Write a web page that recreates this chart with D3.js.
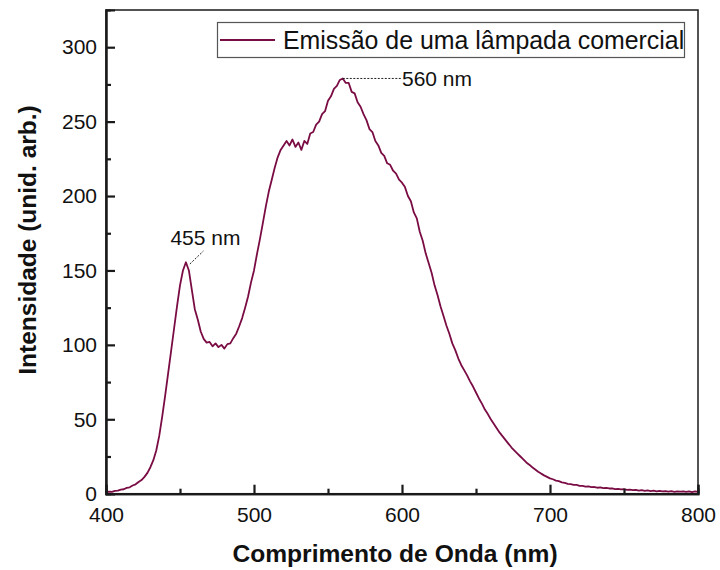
<!DOCTYPE html>
<html><head><meta charset="utf-8">
<script src="https://cdn.jsdelivr.net/npm/d3@7"></script>
<style>body{margin:0;background:#fff} text{font-family:"Liberation Sans",Arial,sans-serif;fill:#111}</style>
</head><body><svg id="c" width="720" height="570"></svg>
<script>
// ---- data ----
const wavelengths = d3.range(400, 801, 2); // nm, sampling grid
const intensity = [
  1.0,1.4,1.2,1.9,2.1,2.8,3.0,3.9,4.3,5.5,6.3,7.9,9.2,11.3,14.0,17.8,22.5,29.2,39,52,
  66,81,96,111,126,140,150,155.5,150,137,124,117,109,104,101.5,102,99,101,98.5,100,97.5,100.5,101,104.5,107.5,112.5,118,125,132.5,142,
  150,161,171,182,193,203,211,219,226,231,
  234,237,234,238,233,236,231,237,
  235,242,243,248,250,255,257,264,267,272,274,278,
  279,276,276,270,269,263,260,255,251,245,243,237,234,229,227,222,221,217,215,211,
  209,206,200,196.5,189,185,176,170,161.5,155,148.5,140,133.5,126,119.5,113,107.5,101,96.5,91,
  86.5,83,79.5,75.5,72,68,64,60.5,56.5,53.5,50,47,44,41,38.5,36,33.5,31,29,27,25,23,21,19.5,17.8,16.3,14.8,13.5,12.3,11.3,
  10.3,9.7,8.8,8.4,7.6,7.2,6.6,6.4,5.9,5.9,5.3,5.3,4.8,4.9,4.4,4.5,4.0,4.2,3.7,3.9,3.5,3.6,3.1,3.3,2.9,3.0,2.6,2.8,2.4,2.6,2.1,2.4,1.9,2.2,1.8,2.0,1.6,1.9,1.5,1.8,1.4,1.7,1.3,1.6,1.4,1.5,1.2,1.6,1.1,1.5,1.2
];
const xTicks = [400, 500, 600, 700, 800];
const xMinorTicks = [450, 550, 650, 750];
const yTicks = [0, 50, 100, 150, 200, 250, 300];
const yMinorTicks = [25, 75, 125, 175, 225, 275];
const peakWavelengths = [455, 560];
const peakValues = [155, 279];
const peakLabels = ["455 nm", "560 nm"];
const seriesName = "Emissão de uma lâmpada comercial";
const xTitle = "Comprimento de Onda (nm)";
const yTitle = "Intensidade (unid. arb.)";

// ---- layout ----
const svg = d3.select("#c");
const L = 106, R = 698, T = 10, B = 493.7;
const x = d3.scaleLinear().domain([400, 800]).range([L, R]);
const y = d3.scaleLinear().domain([0, 325]).range([B, T]);
const color = "#7a0c44";
const ink = "#1a1a1a";

// frame
svg.append("rect").attr("x", L).attr("y", T).attr("width", R - L).attr("height", B - T)
  .attr("fill", "none").attr("stroke", ink).attr("stroke-width", 1.5);

// line
const data = wavelengths.map((w, i) => [w, intensity[i]]);
svg.append("path").datum(data)
  .attr("d", d3.line().x(d => x(d[0])).y(d => y(d[1])))
  .attr("fill", "none").attr("stroke", color).attr("stroke-width", 1.8).attr("stroke-linejoin", "round");

// axes (inward ticks)
const fs = 21;
const xAxis = svg.append("g").attr("transform", `translate(0,${B})`)
  .call(d3.axisBottom(x).tickValues(xTicks).tickSize(-9).tickPadding(13).tickFormat(d3.format("d")));
const xMinor = svg.append("g").attr("transform", `translate(0,${B})`)
  .call(d3.axisBottom(x).tickValues(xMinorTicks).tickSize(-5).tickFormat(""));
const yAxis = svg.append("g").attr("transform", `translate(${L},0)`)
  .call(d3.axisLeft(y).tickValues(yTicks).tickSize(-9).tickPadding(9).tickFormat(d3.format("d")));
const yMinor = svg.append("g").attr("transform", `translate(${L},0)`)
  .call(d3.axisLeft(y).tickValues(yMinorTicks).tickSize(-5).tickFormat(""));
[xAxis, xMinor, yAxis, yMinor].forEach(g => {
  g.select(".domain").attr("stroke", ink).attr("stroke-width", 2);
  g.selectAll(".tick line").attr("stroke", ink).attr("stroke-width", 2.2);
  g.selectAll(".tick text").attr("font-size", fs).attr("fill", "#111")
    .style("font-family", '"Liberation Sans",Arial,sans-serif');
});
xAxis.selectAll(".tick text").attr("dy", "0.71em");

// axis titles
svg.append("text").attr("x", 395).attr("y", 562).attr("text-anchor", "middle")
  .attr("font-size", 24.6).attr("font-weight", "bold").text(xTitle);
svg.append("text").attr("transform", `translate(36,240) rotate(-90)`).attr("text-anchor", "middle")
  .attr("font-size", 24.5).attr("font-weight", "bold").text(yTitle);

// legend
const lg = svg.append("g");
lg.append("rect").attr("x", 217.5).attr("y", 22.5).attr("width", 467).attr("height", 35)
  .attr("fill", "#fff").attr("stroke", "#555").attr("stroke-width", 1.2);
lg.append("line").attr("x1", 220).attr("x2", 275).attr("y1", 40).attr("y2", 40)
  .attr("stroke", color).attr("stroke-width", 1.8);
lg.append("text").attr("x", 283).attr("y", 48.5).attr("font-size", 24.9).text(seriesName);

// peak annotations
svg.append("line")
  .attr("x1", x(peakWavelengths[0]) + 2.5).attr("y1", y(peakValues[0]) + 1)
  .attr("x2", x(peakWavelengths[0]) + 16).attr("y2", y(peakValues[0]) - 12)
  .attr("stroke", "#222").attr("stroke-width", 1).attr("stroke-dasharray", "2,1.5");
svg.append("text").attr("x", x(peakWavelengths[0]) + 18).attr("y", y(peakValues[0]) - 18)
  .attr("text-anchor", "middle").attr("font-size", fs).text(peakLabels[0]);
svg.append("line")
  .attr("x1", x(peakWavelengths[1])).attr("y1", y(peakValues[1]))
  .attr("x2", 402).attr("y2", y(peakValues[1]))
  .attr("stroke", "#222").attr("stroke-width", 1).attr("stroke-dasharray", "2,1.5");
svg.append("text").attr("x", 402).attr("y", y(peakValues[1]) + 8)
  .attr("font-size", fs).text(peakLabels[1]);
</script></body></html>
